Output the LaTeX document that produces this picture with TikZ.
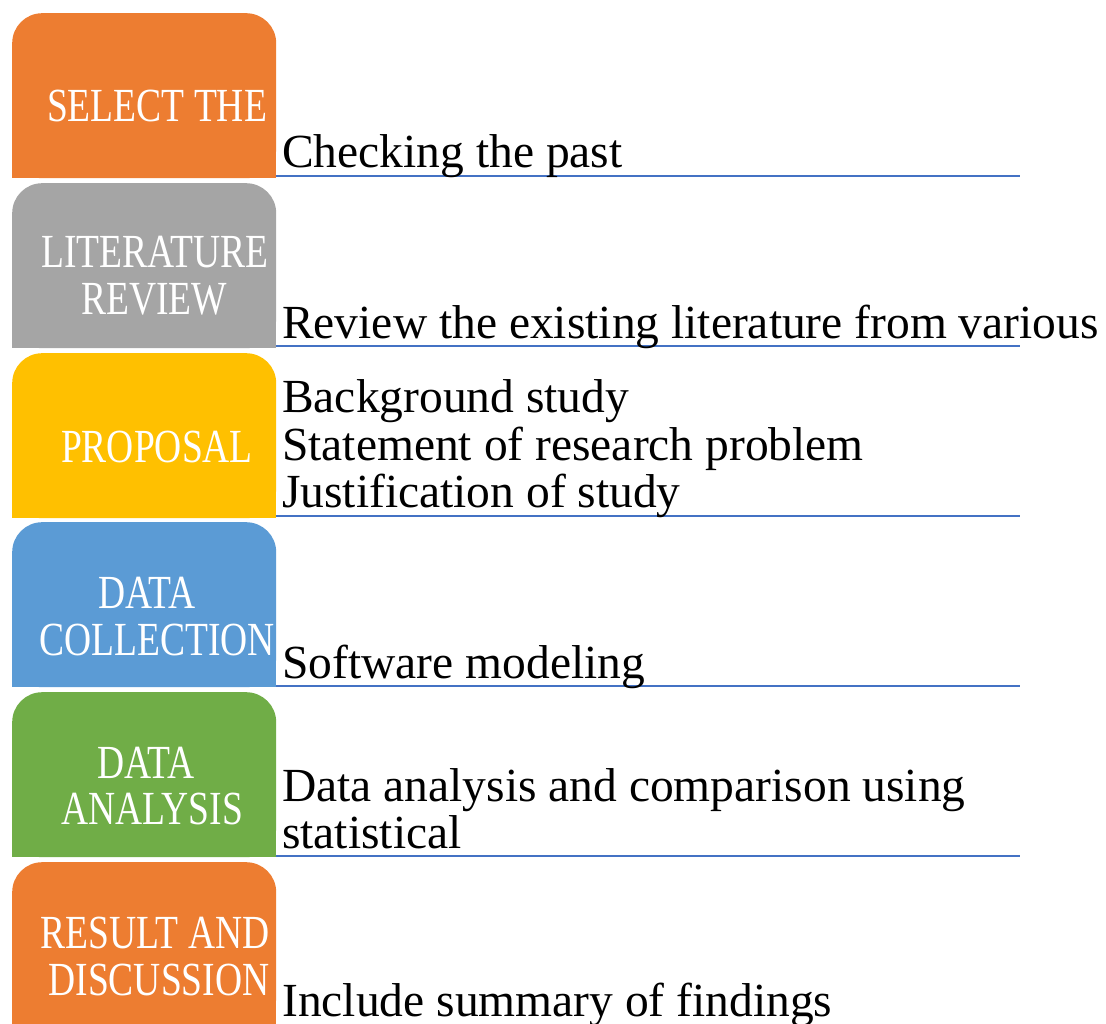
\documentclass[tikz,border=0pt]{standalone}
\usepackage{fontspec}
\setmainfont{Liberation Serif}
\newfontfamily\stagefont{Liberation Serif}[FakeStretch=0.79]
\definecolor{stOrange}{HTML}{ED7D31}
\definecolor{stGray}{HTML}{A5A5A5}
\definecolor{stYellow}{HTML}{FFC000}
\definecolor{stBlue}{HTML}{5B9BD5}
\definecolor{stGreen}{HTML}{70AD47}
\definecolor{ruleblue}{HTML}{4472C4}
\tikzset{
  stage/.style={minimum width=264pt, minimum height=165pt, inner sep=0pt,
    rounded corners=30pt, anchor=north west},
  stagetext/.style={text=white, font=\stagefont\fontsize{47.5}{47.5}\selectfont,
    anchor=base, inner sep=0pt},
  desc/.style={font=\fontsize{47.5}{47.5}\selectfont, anchor=base west, inner sep=0pt},
  rulestyle/.style={draw=ruleblue, line width=2pt},
}
% draws a stage box: rounded top corners, square bottom
\newcommand{\stagebox}[4]{%
  \node[stage, fill=#2] (#1) at (#3,#4) {};
  \fill[#2] (#1.west) rectangle (#1.south east);
}
\begin{document}
\begin{tikzpicture}[x=1pt,y=-1pt]
\useasboundingbox (0,0) rectangle (1106,1024);

% stage boxes
\stagebox{b1}{stOrange}{12}{13}
\stagebox{b2}{stGray}{12}{183}
\stagebox{b3}{stYellow}{12}{353}
\stagebox{b4}{stBlue}{12}{522}
\stagebox{b5}{stGreen}{12}{692}
\stagebox{b6}{stOrange}{12}{862}

% stage titles
\node[stagetext] (t1) at (157,122) {SELECT THE};
\node[stagetext] (t2a) at (155,268) {LITERATURE};
\node[stagetext] (t2b) at (154,315) {REVIEW};
\node[stagetext] (t3) at (157,462) {PROPOSAL};
\node[stagetext] (t4a) at (147,608) {DATA};
\node[stagetext] (t4b) at (157,655) {COLLECTION};
\node[stagetext] (t5a) at (146,778) {DATA};
\node[stagetext] (t5b) at (152,824) {ANALYSIS};
\node[stagetext] (t6a) at (155,948) {RESULT AND};
\node[stagetext] (t6b) at (159,995) {DISCUSSION};

% underlines of the description fields
\foreach \i/\y in {1/176,2/346,3/516,4/686,5/856}{
  \coordinate (ra\i) at (276,\y);
  \coordinate (rb\i) at (1020,\y);
  \draw[rulestyle] (ra\i) -- (rb\i);
}

% descriptions
\node[desc] (d1) at (282,168) {Checking the past};
\node[desc] (d2) at (282,338) {Review the existing literature from various};
\node[desc] (d3a) at (282,412) {Background study};
\node[desc] (d3b) at (282,460) {Statement of research problem};
\node[desc] (d3c) at (282,507) {Justification of study};
\node[desc] (d4) at (282,678) {Software modeling};
\node[desc] (d5a) at (282,801) {Data analysis and comparison using};
\node[desc] (d5b) at (282,848) {statistical};
\node[desc] (d6) at (282,1016) {Include summary of findings};
\end{tikzpicture}
\end{document}
